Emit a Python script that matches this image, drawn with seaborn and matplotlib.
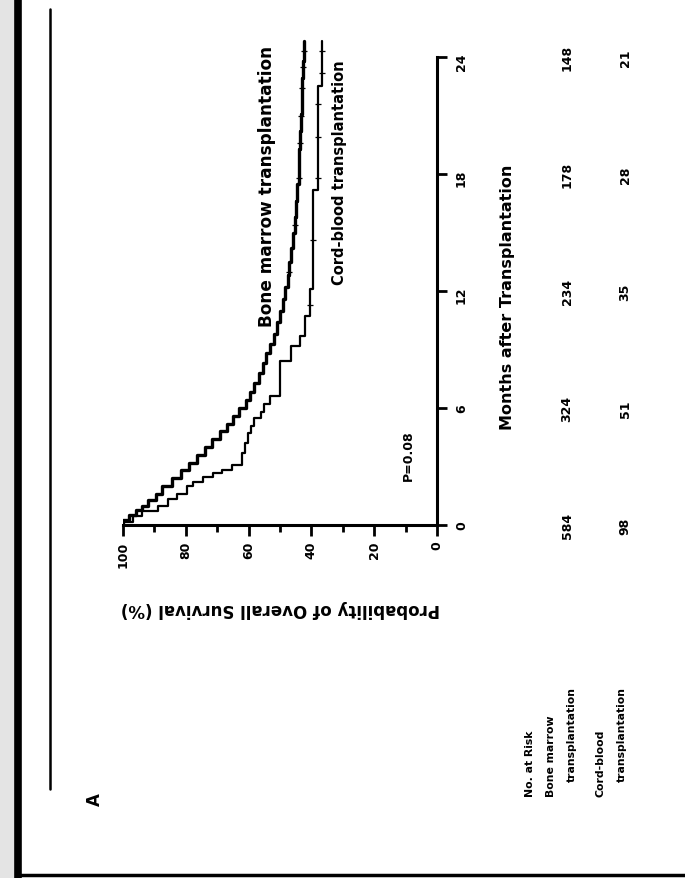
import numpy as np
import pandas as pd
import matplotlib
matplotlib.use("Agg")
import matplotlib.pyplot as plt
from matplotlib.lines import Line2D
from matplotlib.patches import Rectangle
import seaborn as sns

# Kaplan-Meier estimates: months after transplantation and survival (%)
bm_months = [0, 0.25, 0.5, 0.75, 1.0, 1.3, 1.6, 2.0, 2.4, 2.8, 3.2, 3.6, 4.0, 4.4,
             4.8, 5.2, 5.6, 6.0, 6.4, 6.8, 7.3, 7.8, 8.3, 8.8, 9.3, 9.8, 10.4, 11.0,
             11.6, 12.2, 12.8, 13.5, 14.2, 15.0, 15.8, 16.6, 17.5, 18.4, 19.3, 20.2,
             21.1, 22.0, 22.9, 23.8, 24.8]
bm_surv = [100, 98, 96, 94, 92, 89.5, 87.5, 84.5, 81.5, 79, 76.5, 74, 71.5, 69,
           67, 65, 63, 60.8, 59.5, 58.2, 56.8, 55.5, 54.3, 53.1, 52.0, 51.0, 50.0, 49.0,
           48.3, 47.6, 47.0, 46.4, 45.8, 45.3, 44.9, 44.5, 44.1, 43.8, 43.5, 43.3,
           43.1, 42.9, 42.7, 42.5, 42.5]

cb_months = [0, 0.15, 0.45, 0.73, 1.0, 1.33, 1.6, 2.0, 2.2, 2.45, 2.65, 2.8, 3.1,
             3.7, 4.2, 4.7, 5.1, 5.5, 5.8, 6.2, 6.6, 8.4, 9.2, 9.7, 10.7, 12.1,
             17.2, 22.5, 24.8]
cb_surv = [100, 96.9, 93.9, 88.8, 85.7, 82.7, 79.6, 77.6, 74.5, 71.4, 68.4, 65.3,
           62.2, 61.2, 60.2, 59.2, 58.2, 56.1, 55.1, 53.1, 50.0, 46.5, 43.6, 42.0,
           40.4, 39.5, 37.9, 36.6, 36.6]

# censored observations (months)
bm_censor = [13.0, 15.4, 17.8, 19.6, 21.0, 22.4, 23.5, 24.3]
cb_censor = [11.3, 14.6, 17.8, 19.9, 21.6, 23.2, 24.3]

month_ticks = [0, 6, 12, 18, 24]
surv_ticks = [0, 20, 40, 60, 80, 100]
risk_bm = [584, 324, 234, 178, 148]
risk_cb = [98, 51, 35, 28, 21]

W, H = 685, 879
FONT = "DejaVu Sans"

sns.set_theme(style="white")
plt.rcParams["font.family"] = [FONT]
plt.rcParams["font.weight"] = "bold"
for key in ("text.color", "axes.labelcolor", "xtick.color", "ytick.color"):
    plt.rcParams[key] = "black"

fig = plt.figure(figsize=(W / 100, H / 100), dpi=100)


def fx(px):
    return px / W


def fy(py):
    return 1 - py / H


def surv_at(months, surv, t):
    idx = np.searchsorted(np.asarray(months), t, side="right") - 1
    return np.asarray(surv)[idx]


# axes frame in pixels: survival 100 -> x=123, 0 -> x=437 ; months 0 -> y=526, 19.5 px/month
x_left, x_right = 123, 437
y_zero, px_month = 526, 19.5
y_top_month = 25.2
y_top = y_zero - y_top_month * px_month
ax = fig.add_axes([fx(x_left), fy(y_zero), (x_right - x_left) / W, (y_zero - y_top) / H])
ax.set_facecolor("none")

df_bm = pd.DataFrame({"surv": bm_surv, "month": bm_months})
df_cb = pd.DataFrame({"surv": cb_surv, "month": cb_months})
sns.lineplot(data=df_bm, x="surv", y="month", sort=False, estimator=None,
             drawstyle="steps-pre", color="black", lw=2.4, ax=ax, legend=False)
sns.lineplot(data=df_cb, x="surv", y="month", sort=False, estimator=None,
             drawstyle="steps-pre", color="black", lw=1.6, ax=ax, legend=False)

cens_bm = pd.DataFrame({"surv": surv_at(bm_months, bm_surv, bm_censor),
                        "month": bm_censor})
cens_cb = pd.DataFrame({"surv": surv_at(cb_months, cb_surv, cb_censor),
                        "month": cb_censor})
sns.scatterplot(data=cens_bm, x="surv", y="month", marker="_", s=14,
                linewidth=0.9, color="black", ax=ax, legend=False)
sns.scatterplot(data=cens_cb, x="surv", y="month", marker="_", s=14,
                linewidth=0.9, color="black", ax=ax, legend=False)

ax.set_xlim(100, 0)
ax.set_ylim(0, y_top_month)
ax.set_xlabel("")
ax.set_ylabel("")

for side in ("top", "left"):
    ax.spines[side].set_visible(False)
for side in ("bottom", "right"):
    ax.spines[side].set_color("black")
    ax.spines[side].set_linewidth(2.2)
ax.spines["bottom"].set_bounds(0, 100)
ax.spines["right"].set_bounds(0, 24)

ax.yaxis.tick_right()
ax.set_xticks(surv_ticks)
ax.set_xticks([10, 30, 50, 70, 90], minor=True)
ax.set_xticklabels([str(t) for t in surv_ticks])
ax.set_yticks(month_ticks)
ax.set_yticklabels([str(t) for t in month_ticks])
ax.tick_params(axis="x", which="major", direction="out", length=8, width=2,
               color="black", bottom=True, labelsize=9, labelrotation=90, pad=3)
ax.tick_params(axis="x", which="minor", direction="out", length=5, width=2,
               color="black", bottom=True)
ax.tick_params(axis="y", which="major", direction="out", length=7, width=2,
               color="black", right=True, left=False, labelsize=9,
               labelrotation=90, pad=6)
for lab in ax.get_xticklabels() + ax.get_yticklabels():
    lab.set_fontweight("bold")

# axis titles
ax.set_xlabel("Probability of Overall Survival (%)", fontsize=12,
              fontweight="bold", rotation=180)
ax.xaxis.set_label_coords((280 - x_left) / (x_right - x_left),
                          (y_zero - 600) / (y_zero - y_top))
ax.set_ylabel("Months after Transplantation", fontsize=11.5, fontweight="bold",
              rotation=90)
ax.yaxis.set_label_position("right")
ax.yaxis.set_label_coords((500 - x_left) / (x_right - x_left),
                          (y_zero - 297) / (y_zero - y_top))

# curve annotations
ax.text(54.0, 17.4, "Bone marrow transplantation", rotation=90, ha="center",
        va="center", fontsize=12.2, fontweight="bold")
ax.text(30.9, 18.1, "Cord-blood transplantation", rotation=90, ha="center",
        va="center", fontsize=10.5, fontweight="bold")
ax.text(9.2, 3.6, "P=0.08", rotation=90, ha="center", va="center",
        fontsize=9, fontweight="bold")

# numbers at risk
tr = ax.get_yaxis_transform()
col_bm = (567 - x_left) / (x_right - x_left)
col_cb = (625 - x_left) / (x_right - x_left)
for m, nb, nc in zip(month_ticks, risk_bm, risk_cb):
    ax.text(col_bm, m, str(nb), transform=tr, rotation=90, ha="center",
            va="center", fontsize=9, fontweight="bold")
    ax.text(col_cb, m, str(nc), transform=tr, rotation=90, ha="center",
            va="center", fontsize=9, fontweight="bold")

row_labels = [("No. at Risk", 530, 797), ("Bone marrow", 551, 797),
              ("transplantation", 572, 782), ("Cord-blood", 600, 797),
              ("transplantation", 622, 782)]
for txt, px, py in row_labels:
    fig.text(fx(px), fy(py), txt, rotation=90, ha="center", va="bottom",
             fontsize=7.8, fontweight="bold")

# panel letter and rule
fig.text(fx(95), fy(800), "A", rotation=90, ha="center", va="center",
         fontsize=12, fontweight="bold")
fig.add_artist(Line2D([fx(50), fx(50)], [fy(10), fy(790)], color="black", lw=1.8))

# page edge
fig.add_artist(Rectangle((0, 0), fx(15), 1, color="#e4e4e4", lw=0))
fig.add_artist(Line2D([fx(18), fx(18)], [0, 1], color="black", lw=5.5))
fig.add_artist(Line2D([fx(18), 1], [fy(876), fy(876)], color="black", lw=2.5))

fig.savefig("out.png", dpi=100)
